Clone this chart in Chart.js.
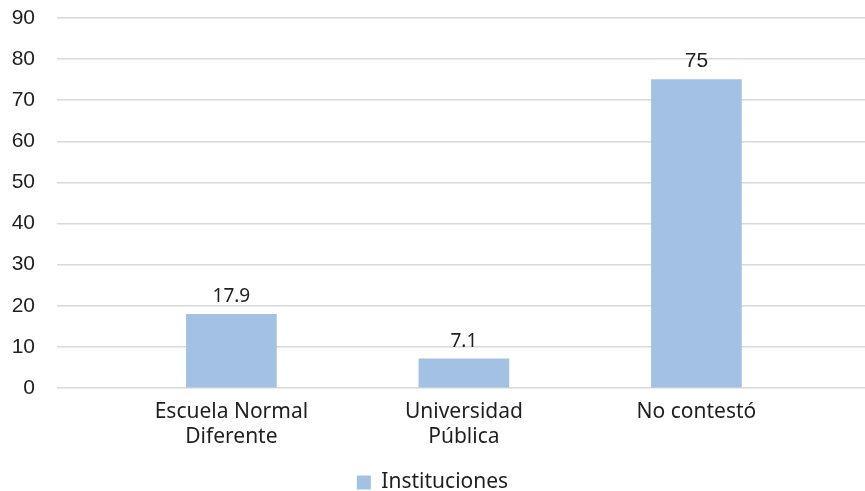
<!DOCTYPE html>
<html>
<head>
<meta charset="utf-8">
<script src="https://cdn.jsdelivr.net/npm/chart.js@4/dist/chart.umd.min.js"></script>
<style>
  body { margin: 0; background: #fff; }
  #wrap { width: 865px; height: 491px; }
</style>
</head>
<body>
<div id="wrap"><canvas id="chart" width="865" height="491"></canvas></div>
<script>
const categories = [['Escuela Normal', 'Diferente'], ['Universidad', 'Pública'], ['No contestó']];
const values = [17.9, 7.1, 75];
const seriesName = 'Instituciones';
const yTicks = [0, 10, 20, 30, 40, 50, 60, 70, 80, 90];

const barColor = '#a3c1e2';
const textColor = '#1f1f1f';

// value labels above each bar
const valueLabels = {
  id: 'valueLabels',
  afterDatasetsDraw(chart) {
    const ctx = chart.ctx;
    const meta = chart.getDatasetMeta(0);
    ctx.save();
    ctx.fillStyle = textColor;
    ctx.textAlign = 'center';
    ctx.textBaseline = 'bottom';
    meta.data.forEach((bar, i) => {
      ctx.font = i === 2 ? '21px "Liberation Sans"' : '19px "Noto Sans"';
      ctx.fillText(String(values[i]), bar.x, bar.y - 8);
    });
    ctx.restore();
  }
};

new Chart(document.getElementById('chart'), {
  type: 'bar',
  data: {
    datasets: [{
      label: seriesName,
      data: values.map((v, i) => ({ x: i, y: v })),
      backgroundColor: barColor,
      borderWidth: 0,
      barThickness: 90,
    }],
  },
  options: {
    responsive: false,
    animation: false,
    layout: { padding: { top: 0, right: 0, bottom: -12, left: 0 } },
    plugins: {
      tooltip: { enabled: false },
      legend: {
        position: 'bottom',
        labels: {
          boxWidth: 14,
          boxHeight: 14,
          padding: 0,
          color: textColor,
          font: { family: 'Noto Sans', size: 21 },
        },
      },
    },
    scales: {
      x: {
        type: 'linear',
        offset: false,
        min: -0.75,
        max: 2.725,
        grid: { display: false },
        border: { display: false },
        afterBuildTicks: (scale) => {
          scale.ticks = categories.map((c, i) => ({ value: i }));
        },
        afterFit: (scale) => { scale.height = 84; },
        ticks: {
          color: textColor,
          padding: 3,
          maxRotation: 0,
          autoSkip: false,
          font: { family: 'Noto Sans', size: 21, lineHeight: 1.2 },
          callback: (v) => categories[v],
        },
      },
      y: {
        min: 0,
        max: 90,
        afterBuildTicks: (scale) => {
          scale.ticks = yTicks.map((v) => ({ value: v }));
        },
        afterFit: (scale) => {
          scale.width = 57;
          scale.paddingTop = 18;
          scale.paddingBottom = 12;
        },
        grid: { color: '#d9d9d9', lineWidth: 1.5, drawTicks: false },
        border: { display: false },
        ticks: {
          color: textColor,
          padding: 22,
          font: { family: 'Liberation Sans', size: 21 },
        },
      },
    },
  },
  plugins: [valueLabels],
});
</script>
</body>
</html>
